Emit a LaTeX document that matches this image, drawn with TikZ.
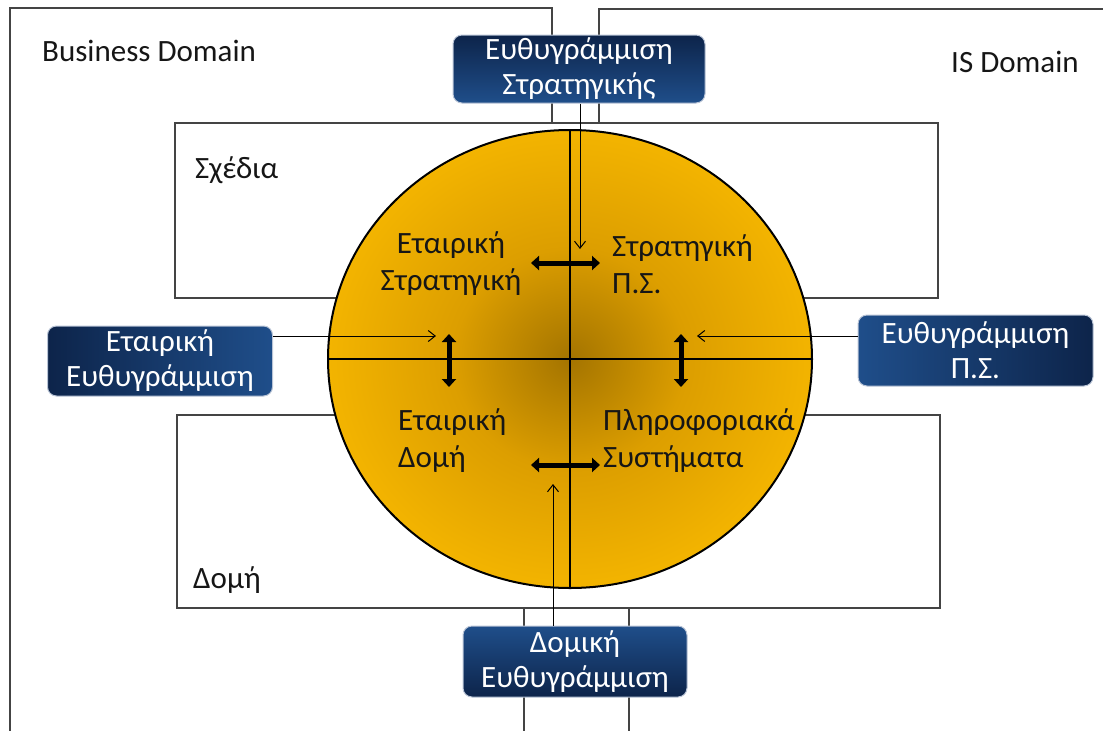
\documentclass[tikz,border=0pt]{standalone}
\usepackage{fontspec}
\setmainfont{Carlito}
\usetikzlibrary{shapes.geometric,arrows.meta}

\definecolor{goldlight}{RGB}{243,180,0}
\definecolor{goldmid}{RGB}{220,158,0}
\definecolor{golddark}{RGB}{164,116,0}
\definecolor{navydark}{RGB}{13,36,74}
\definecolor{navylight}{RGB}{31,78,138}
\definecolor{framegray}{RGB}{68,68,68}
\definecolor{boxrim}{RGB}{185,196,214}
\definecolor{inktext}{RGB}{22,22,22}

\pgfdeclareradialshading{goldball}{\pgfpoint{0bp}{0bp}}{%
  color(0bp)=(golddark); color(12bp)=(goldmid);
  color(25bp)=(goldlight); color(50bp)=(goldlight)}

\begin{document}
\begin{tikzpicture}[x=1pt,y=-1pt,
  frameline/.style={draw=framegray, line width=1.5pt},
  alignbox/.style={rounded corners=9pt, draw=boxrim, line width=1pt,
    text=white, align=center, inner sep=0pt,
    font=\fontsize{31}{35}\selectfont},
  plainlabel/.style={text=inktext, inner sep=0pt,
    font=\fontsize{31}{37}\selectfont},
  divider/.style={draw=black, line width=2.6pt},
  thickarrow/.style={line width=5pt,
    {Triangle[width=14pt,length=8pt]}-{Triangle[width=14pt,length=8pt]}},
  thinarrow/.style={line width=1pt, -{Straight Barb[length=7pt,width=11pt]}}
]
\useasboundingbox (0,0) rectangle (1103,731);

% domain frames
\draw[frameline] (552,123) -- (552,8) -- (10,8) -- (10,731);
\draw[frameline] (599,123) -- (599,9) -- (1103,9);
\draw[frameline] (175,123) rectangle (938,298);
\draw[frameline] (177,415) rectangle (940,608);
\draw[frameline] (524,608) -- (524,731);
\draw[frameline] (629,608) -- (629,731);

% frame labels
\node[plainlabel, anchor=base west] (bizdom) at (42,61) {Business Domain};
\node[plainlabel, anchor=base west] (isdom) at (951,72) {IS Domain};
\node[plainlabel, anchor=base west] (plans) at (195,178) {Σχέδια};
\node[plainlabel, anchor=base west] (struct) at (193,588) {Δομή};

% the disk and its quadrants
\node[ellipse, shading=goldball, draw=black, line width=2pt,
  minimum width=484pt, minimum height=458pt, inner sep=0pt] (disk) at (570,359) {};
\draw[divider] (disk.north) -- (disk.south);
\draw[divider] (disk.west) -- (disk.east);

\node[plainlabel, align=center] (q1) at (451,264) {Εταιρική\\Στρατηγική};
\node[plainlabel, align=left, anchor=west] (q2) at (612,264) {Στρατηγική\\Π.Σ.};
\node[plainlabel, align=left, anchor=west] (q3) at (398,441) {Εταιρική\\Δομή};
\node[plainlabel, align=left, anchor=west] (q4) at (603,441) {Πληροφοριακά\\Συστήματα};

% links between quadrants
\coordinate (h1a) at (531,263); \coordinate (h1b) at (600,263);
\coordinate (h2a) at (531,465); \coordinate (h2b) at (600,465);
\coordinate (v1a) at (449,334); \coordinate (v1b) at (449,387);
\coordinate (v2a) at (681,334); \coordinate (v2b) at (681,387);
\draw[thickarrow] (h1a) -- (h1b);
\draw[thickarrow] (h2a) -- (h2b);
\draw[thickarrow] (v1a) -- (v1b);
\draw[thickarrow] (v2a) -- (v2b);

% alignment boxes
\node[alignbox, top color=navydark, bottom color=navylight,
  minimum width=252pt, minimum height=68pt] (topbox) at (579,69)
  {Ευθυγράμμιση\\Στρατηγικής};
\node[alignbox, left color=navydark, right color=navylight,
  minimum width=225pt, minimum height=70pt] (leftbox) at (160,361)
  {Εταιρική\\Ευθυγράμμιση};
\node[alignbox, left color=navylight, right color=navydark,
  minimum width=235pt, minimum height=71pt] (rightbox) at (975.5,350.5)
  {Ευθυγράμμιση\\Π.Σ.};
\node[alignbox, top color=navylight, bottom color=navydark,
  minimum width=224pt, minimum height=71pt] (botbox) at (575,661.5)
  {Δομική\\Ευθυγράμμιση};

% alignment arrows
\coordinate (toptip) at (580,249);
\coordinate (lefttip) at (436,336);
\coordinate (righttip) at (697,336);
\coordinate (bottip) at (553,484);
\draw[thinarrow] (topbox.south -| toptip) -- (toptip);
\draw[thinarrow] (leftbox.east |- lefttip) -- (lefttip);
\draw[thinarrow] (rightbox.west |- righttip) -- (righttip);
\draw[thinarrow] (botbox.north -| bottip) -- (bottip);
\end{tikzpicture}
\end{document}
